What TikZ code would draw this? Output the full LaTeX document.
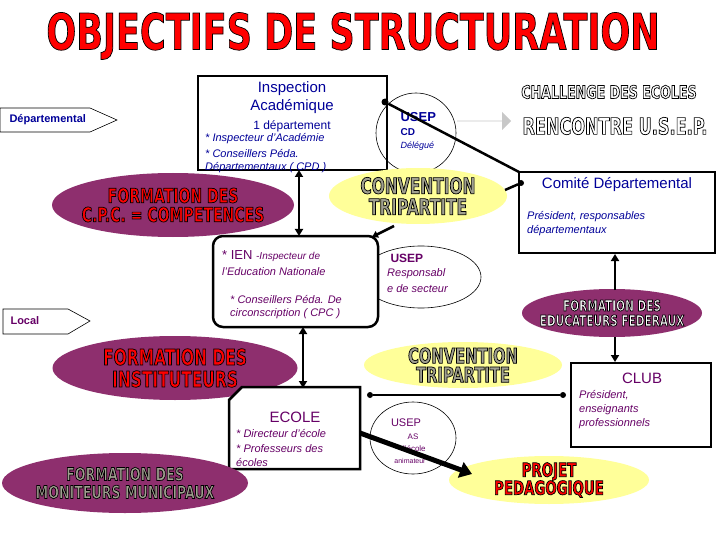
\documentclass[tikz,border=0pt]{standalone}
\usepackage{fontspec}
\setmainfont{Liberation Sans}
\newfontfamily\cond[FakeStretch=0.78]{DejaVu Sans Condensed}
\usetikzlibrary{shapes.geometric,shapes.arrows,arrows.meta,shapes.misc}
\definecolor{plum}{HTML}{8E2F6E}
\definecolor{lyel}{HTML}{FFFF99}
\definecolor{dblue}{HTML}{000099}
\definecolor{dpurp}{HTML}{660066}
\definecolor{gtxt}{HTML}{A0A090}
\definecolor{gout}{HTML}{C8C8C8}
\newcommand{\outl}[2]{{\color{#1}\special{pdf:code 2 Tr 0.7 w 0 0 0 RG}#2\special{pdf:code 0 Tr}}}
\begin{document}
\begin{tikzpicture}[x=1pt,y=-1pt,
  bx/.style={draw=black,line width=2.5pt},
  pent/.style={draw=black,fill=white,line width=0.6pt},
  plumell/.style={ellipse,fill=plum,inner sep=0pt},
  yelell/.style={ellipse,fill=lyel,inner sep=0pt},
  usepc/.style={ellipse,draw=black,fill=white,line width=0.6pt,inner sep=0pt},
  big/.style={font=\cond\bfseries\fontsize{20}{19}\selectfont,align=center},
  bl/.style={text=dblue,anchor=west,inner sep=0pt,font=\fontsize{11}{12}\selectfont\itshape},
  pu/.style={text=dpurp,anchor=west,inner sep=0pt,font=\fontsize{11}{12}\selectfont\itshape},
  arr/.style={line width=2.5pt,-{Triangle[length=7pt,width=8pt]}},
  darr/.style={line width=2.5pt,{Triangle[length=7pt,width=8pt]}-{Triangle[length=7pt,width=8pt]}},
  dot/.style={circle,fill=black,inner sep=0pt,minimum size=7pt}]
\useasboundingbox (0,0) rectangle (720,540);
\fill[white] (0,0) rectangle (720,540);
% title
\node (title) at (353,36) {\cond\bfseries\fontsize{50}{50}\selectfont\outl{red}{OBJECTIFS DE STRUCTURATION}};
% pentagons
\draw[pent] (0,108) -- (90,108) -- (117,120) -- (90,132) -- (0,132) -- cycle;
\node[text=dblue,font=\bfseries\fontsize{11}{12}\selectfont,anchor=west] (dep) at (6,120) {Départemental};
\draw[pent] (3,309) -- (68,309) -- (90,321) -- (68,334) -- (3,334) -- cycle;
\node[text=dpurp,font=\bfseries\fontsize{11}{12}\selectfont,anchor=west] (loc) at (7,321) {Local};
% USEP circle 1
\node[usepc,minimum width=80pt,minimum height=80pt] (u1) at (416,133) {};
% Inspection box
\draw[bx] (198,76) rectangle (387,170);
\node[text=dblue,font=\fontsize{15}{16}\selectfont] (ia1) at (292,89) {Inspection};
\node[text=dblue,font=\fontsize{15}{16}\selectfont] (ia2) at (292,107) {Académique};
\node[text=dblue,font=\fontsize{12}{13}\selectfont] (ia3) at (292,126) {1 département};
\node[bl] (ia4) at (205,139) {* Inspecteur d'Académie};
\node[bl] (ia5) at (205,154) {* Conseillers Péda.};
\node[bl] (ia6) at (205,168) {Départementaux ( CPD )};
\node[text=dblue,font=\bfseries\fontsize{13}{14}\selectfont,anchor=west] (us1) at (397,117) {USEP};
\node[text=dblue,font=\bfseries\fontsize{10}{11}\selectfont,anchor=west] (cd) at (397,132) {CD};
\node[text=dblue,font=\itshape\fontsize{9}{10}\selectfont,anchor=west] (del) at (397,146) {Délégué};
% grey arrow
\node[single arrow,fill=gout,minimum height=54pt,minimum width=18pt,single arrow head extend=4pt,inner sep=0pt] (garr) at (484,121) {};
\node[big,font=\cond\bfseries\fontsize{18}{18}\selectfont] (chal) at (609,92) {\outl{white}{CHALLENGE DES ECOLES}};
\node[big,font=\cond\bfseries\fontsize{23}{23}\selectfont] (renc) at (615,126) {\outl{white}{RENCONTRE U.S.E.P.}};
% Comite box
\draw[bx] (519,172) rectangle (715,253);
\coordinate (cTL) at (519,172);
\node[text=dblue,font=\fontsize{15}{16}\selectfont] (com) at (617,185) {Comité Départemental};
\node[bl] (com2) at (527,217) {Président, responsables};
\node[bl] (com3) at (527,231) {départementaux};
\node[dot] (d1) at (385,102) {};
\draw[line width=2.5pt] (d1) -- (cTL);
% ellipses row 1
\node[plumell,minimum width=242pt,minimum height=64pt] (fcpc) at (173,205) {};
\node[big] at (fcpc) {\outl{red}{FORMATION DES}\\\outl{red}{C.P.C. = COMPETENCES}};
\node[yelell,minimum width=178pt,minimum height=56pt] (conv1) at (418,196) {};
\node[big,font=\cond\bfseries\fontsize{22}{21}\selectfont] at (conv1) {\outl{gtxt}{CONVENTION}\\\outl{gtxt}{TRIPARTITE}};
\node[dot,minimum size=6pt] (d2) at (521,183) {};
\draw[line width=2.5pt] (505,190) -- (d2);
% USEP circle 2
\node[usepc,minimum width=120pt,minimum height=62pt] (u2) at (421,277) {};
% IEN box
\draw[line width=2.5pt,rounded corners=10pt,fill=white] (213,236) rectangle (378,327);
\node[pu,font=\fontsize{13}{14}\selectfont] (ien1) at (222,256) {* IEN {\itshape\fontsize{10}{11}\selectfont -Inspecteur de}};
\node[pu] (ien2) at (222,272) {l'Education Nationale};
\node[pu] (ien3) at (230,300) {* Conseillers Péda. De};
\node[pu] (ien4) at (230,314) {circonscription ( CPC )};
\node[text=dpurp,font=\bfseries\fontsize{12}{13}\selectfont,anchor=west] (us2) at (387,258) {USEP};
\node[pu] (us2b) at (387,274) {Responsabl};
\node[pu] (us2c) at (387,289) {e de secteur};
\draw[line width=2.5pt,-{Triangle[length=6pt,width=7pt]}] (394,226) -- (372,237);
\draw[darr] (299,170) -- (299,236);
% Educateurs
\node[plumell,minimum width=180pt,minimum height=48pt] (fedu) at (612,313) {};
\node[big,font=\cond\bfseries\fontsize{15}{15}\selectfont] at (fedu) {\outl{white}{FORMATION DES}\\\outl{white}{EDUCATEURS FEDERAUX}};
\draw[arr] (615,290) -- (615,254);
% CLUB
\draw[bx] (571,363) rectangle (711,447);
\draw[arr] (615,337) -- (615,362);
\node[text=dpurp,font=\fontsize{15}{16}\selectfont] (club) at (642,378) {CLUB};
\node[pu] (cl1) at (579,395) {Président,};
\node[pu] (cl2) at (579,410) {enseignants};
\node[pu] (cl3) at (579,424) {professionnels};
% row 2 ellipses
\node[plumell,minimum width=245pt,minimum height=64pt] (finst) at (175,368) {};
\node[big,font=\cond\bfseries\fontsize{22}{22}\selectfont] at (finst) {\outl{red}{FORMATION DES}\\\outl{red}{INSTITUTEURS}};
\node[yelell,minimum width=198pt,minimum height=46pt] (conv2) at (463,365) {};
\node[big,font=\cond\bfseries\fontsize{21}{19}\selectfont] at (conv2) {\outl{gtxt}{CONVENTION}\\\outl{gtxt}{TRIPARTITE}};
\node[dot,minimum size=6pt] (d3) at (370,395) {};
\node[dot,minimum size=6pt] (d4) at (563,395) {};
\draw[line width=1.5pt] (d3) -- (d4);
\draw[darr] (303,327) -- (303,388);
% ECOLE
\draw[line width=2.5pt,fill=white] (242,387) -- (360,387) -- (360,469) -- (229,469) -- (229,400) -- cycle;
\node[text=dpurp,font=\fontsize{15}{16}\selectfont] (ecole) at (295,417) {ECOLE};
\node[pu] (ec1) at (236,434) {* Directeur d'école};
\node[pu] (ec2) at (236,449) {* Professeurs des};
\node[pu] (ec3) at (236,463) {écoles};
% USEP circle 3
\node[usepc,minimum width=86pt,minimum height=72pt] (u3) at (413,438) {};
\node[text=dpurp,font=\fontsize{11}{12}\selectfont] (us3) at (406,423) {USEP};
\node[text=dpurp,font=\fontsize{8}{9}\selectfont] (as) at (413,437) {AS};
\node[text=dpurp,font=\fontsize{8}{9}\selectfont] (dec) at (413,449) {d'école};
\node[text=dpurp,font=\fontsize{7}{8}\selectfont] (anim) at (410,461) {animateur};
% Projet
\node[yelell,minimum width=200pt,minimum height=48pt] (proj) at (549,480) {};
\node[big,font=\cond\bfseries\fontsize{19}{18}\selectfont] at (proj) {\outl{red}{PROJET}\\\outl{red}{PEDAGOGIQUE}};
\draw[line width=5pt,-{Triangle[length=12pt,width=16pt]}] (360,433) -- (472,474);
% Moniteurs
\node[plumell,minimum width=246pt,minimum height=60pt] (fmon) at (125,483) {};
\node[big,font=\cond\bfseries\fontsize{18}{18}\selectfont] at (fmon) {\outl{gtxt}{FORMATION DES}\\\outl{gtxt}{MONITEURS MUNICIPAUX}};
\end{tikzpicture}
\end{document}
